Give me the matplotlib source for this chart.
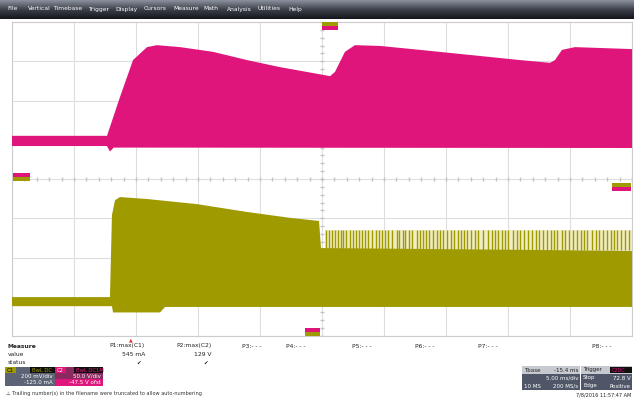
import numpy as np
import matplotlib
matplotlib.use("Agg")
import matplotlib.pyplot as plt
from matplotlib.patches import Rectangle
from matplotlib.colors import LinearSegmentedColormap

W, H = 634, 400

# time in ms (5 ms/div, 10 div), amplitude in screen divisions (-4..4)
# C2 (magenta) envelope
c2_top_t = [0, 7.66, 8.71, 9.76, 10.89, 11.69, 13.55, 16.21, 18.95, 21.61, 24.27, 25.65,
            26.05, 26.85, 27.66, 29.68, 32.90, 36.94, 40.97, 43.39, 43.79, 44.35, 45.40, 50]
c2_top_v = [1.10, 1.10, 2.09, 3.03, 3.36, 3.41, 3.36, 3.24, 3.03, 2.85, 2.70, 2.62,
            2.73, 3.24, 3.41, 3.39, 3.29, 3.16, 3.03, 2.96, 3.03, 3.29, 3.36, 3.31]
c2_low_t = [0, 7.66, 7.90, 8.20, 50]
c2_low_v = [0.84, 0.84, 0.70, 0.80, 0.79]

# C1 (olive) envelope
c1_top_t = [0, 7.90, 8.06, 8.31, 8.71, 10.89, 14.92, 18.95, 22.42, 24.76, 24.92, 50]
c1_top_v = [-3.01, -3.01, -0.92, -0.54, -0.46, -0.51, -0.64, -0.84, -0.99, -1.07, -1.76, -1.83]
c1_low_t = [0, 8.06, 8.15, 11.94, 12.34, 50]
c1_low_v = [-3.24, -3.24, -3.40, -3.40, -3.26, -3.26]

# C1 pulse spikes after the step (ms)
c1_spike_t = [25.32, 25.59, 25.81, 26.02, 26.27, 26.51, 26.67, 26.91, 27.26, 27.48, 27.74,
              28.01, 28.23, 28.47, 28.73, 29.01, 29.35, 29.57, 29.81, 30.08, 30.35, 30.62,
              31.02, 31.23, 31.51, 31.72, 32.04, 32.26, 32.64, 32.90, 33.12, 33.39, 33.65,
              33.93, 34.25, 34.52, 34.78, 35.06, 35.38, 35.65, 35.97, 36.19, 36.45, 36.72,
              36.99, 37.34, 37.61, 37.96, 38.41, 38.69, 38.95, 39.22, 39.49, 39.76, 40.02,
              40.38, 40.70, 40.97, 41.29, 41.64, 41.96, 42.26, 42.52, 42.80, 43.12, 43.44,
              43.71, 43.98, 44.33, 44.60, 44.94, 45.22, 45.54, 45.86, 46.13, 46.40, 46.75,
              47.10, 47.36, 47.64, 47.96, 48.28, 48.55, 48.82, 49.09, 49.44, 49.79]
c1_spike_base = -1.80
c1_spike_top = -1.30

menu_items = ["File", "Vertical", "Timebase", "Trigger", "Display", "Cursors",
              "Measure", "Math", "Analysis", "Utilities", "Help"]
menu_x = [7, 28, 53, 88, 115, 144, 173, 203, 227, 258, 288]

param_names = ["P1:max(C1)", "P2:max(C2)", "P3:- - -", "P4:- - -", "P5:- - -",
               "P6:- - -", "P7:- - -", "P8:- - -"]
param_x = [145, 212, 262, 305, 372, 435, 498, 612]
param_values = ["545 mA", "129 V"]

MAG = '#e0157b'
OLV = '#9e9a00'

fig = plt.figure(figsize=(W / 100, H / 100), dpi=100)
fig.patch.set_facecolor('white')


def box(x, y, w, h, color, z=1):
    fig.patches.append(Rectangle((x / W, 1 - (y + h) / H), w / W, h / H,
                                 transform=fig.transFigure, facecolor=color,
                                 edgecolor='none', zorder=z))


def label(x, y, s, **kw):
    kw.setdefault('fontsize', 4.3)
    kw.setdefault('color', '#222222')
    fig.text(x / W, 1 - y / H, s, va='center', zorder=5, **kw)


# menu bar
axm = fig.add_axes([0, 1 - 19 / H, 1, 19 / H])
cmap = LinearSegmentedColormap.from_list('bar', ['#8a909c', '#3c404a', '#14161b'])
axm.imshow(np.linspace(0, 1, 40).reshape(-1, 1), cmap=cmap, aspect='auto',
           extent=[0, 1, 0, 1])
axm.axis('off')
for name, x in zip(menu_items, menu_x):
    label(x, 9, name, color='white', fontsize=4.3)

# scope screen
ax = fig.add_axes([12 / W, 1 - 336 / H, 620 / W, 314 / H])
ax.set_xlim(0, 50)
ax.set_ylim(-4, 4)
ax.set_xticks(np.arange(0, 51, 5))
ax.set_yticks(np.arange(-4, 5, 1))
ax.grid(color='#dedede', lw=0.8)
ax.tick_params(length=0, labelbottom=False, labelleft=False)
for s in ax.spines.values():
    s.set_color('#cccccc')
ax.plot(np.arange(0, 50.1, 1), np.zeros(51), '|', ms=2.5, color='#c4c4c4')
ax.plot(np.full(41, 25), np.arange(-4, 4.01, 0.2), '_', ms=2.5, color='#c4c4c4')

ax.fill(np.concatenate([c2_top_t, c2_low_t[::-1]]),
        np.concatenate([c2_top_v, c2_low_v[::-1]]), color=MAG, lw=0, zorder=3)
ax.fill_between([c1_spike_t[0] - 0.1, 50], c1_spike_base, c1_spike_top,
                color='#efedc4', lw=0, zorder=2)
ax.vlines(c1_spike_t, c1_spike_base, c1_spike_top, color=OLV, lw=1.0, zorder=3)
ax.fill(np.concatenate([c1_top_t, c1_low_t[::-1]]),
        np.concatenate([c1_top_v, c1_low_v[::-1]]), color=OLV, lw=0, zorder=3)

# channel markers
box(13, 173, 17, 4, MAG, 6); box(13, 177, 17, 4, OLV, 6)
box(612, 183, 19, 4, OLV, 6); box(612, 187, 19, 4, MAG, 6)
box(322, 22, 16, 4, OLV, 6); box(322, 26, 16, 4, MAG, 6)
box(305, 328, 15, 4, MAG, 6); box(305, 332, 15, 4, OLV, 6)
fig.text(131 / W, 1 - 340 / H, '\u25b2', color='#e03030', fontsize=3.5,
         ha='center', va='center')

# measurement table
label(8, 346, "Measure", fontweight='bold')
label(8, 355, "value")
label(8, 363, "status")
for name, x in zip(param_names, param_x):
    label(x, 346, name, ha='right')
for val, x in zip(param_values, param_x):
    label(x, 355, val, ha='right')
    label(x - 4, 363, '\u2714', ha='right', fontsize=4)

# channel descriptors
box(5, 367, 50, 19, '#5c6374')
box(5, 367, 11, 6, OLV); box(30, 367, 25, 6, '#101010')
label(7, 370, "C1", fontsize=3.8, color='black')
label(32, 370, "BwL DC", fontsize=3.8, color=OLV)
label(53, 376.5, "200 mV/div", ha='right', color='white', fontsize=4)
label(53, 382.5, "-125.0 mA", ha='right', color='white', fontsize=4)
box(55, 367, 48, 19, '#8a2a5e')
box(55, 379, 48, 7, MAG)
box(55, 367, 11, 6, MAG); box(74, 367, 29, 6, '#101010')
label(57, 370, "C2", fontsize=3.8, color='white')
label(76, 370, "BwL DC1M", fontsize=3.8, color=MAG)
label(101, 376.5, "50.0 V/div", ha='right', color='white', fontsize=4)
label(101, 382.5, "-47.5 V ofst", ha='right', color='white', fontsize=4)
label(6, 394, "\u26a0 Trailing number(s) in the filename were truncated to allow auto-numbering",
      fontsize=3.6, color='#333333')

# timebase / trigger
box(522, 366, 58, 24, '#4f5668')
box(522, 366, 58, 8, '#c6c9d0')
label(524, 370, "Tbase", fontsize=4)
label(578, 370, "-15.4 ms", ha='right', fontsize=4)
label(578, 378, "5.00 ms/div", ha='right', color='white', fontsize=4)
label(524, 386, "10 MS", color='white', fontsize=4)
label(578, 386, "200 MS/s", ha='right', color='white', fontsize=4)
box(581, 366, 51, 24, '#4f5668')
box(581, 366, 51, 8, '#c6c9d0')
box(610, 367, 22, 6, '#101010')
label(583, 370, "Trigger", fontsize=4)
label(612, 370, "C2DC", fontsize=3.6, color=MAG)
label(583, 378, "Stop", color='white', fontsize=4)
label(631, 378, "72.8 V", ha='right', color='white', fontsize=4)
label(583, 386, "Edge", color='white', fontsize=4)
label(631, 386, "Positive", ha='right', color='white', fontsize=4)
label(631, 395, "7/8/2016 11:57:47 AM", ha='right', fontsize=3.6)

fig.savefig('out.png', dpi=100)
